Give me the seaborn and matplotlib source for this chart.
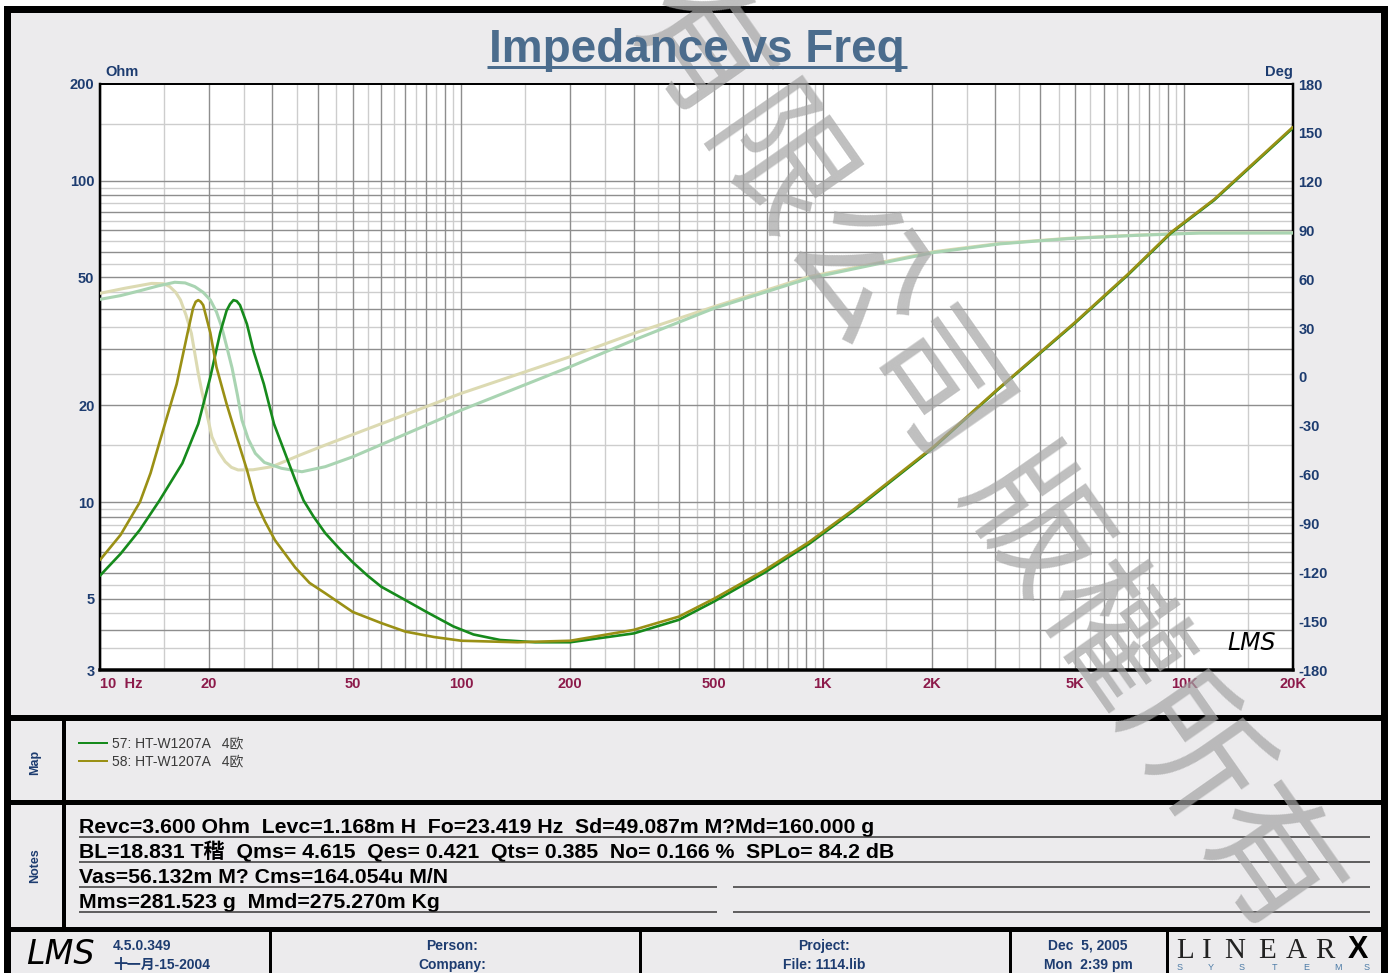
import matplotlib
matplotlib.use('Agg')
import matplotlib.pyplot as plt
from matplotlib.lines import Line2D
from matplotlib.patches import Rectangle
from matplotlib.ticker import NullLocator
import seaborn as sns

# impedance magnitude (Ohm) vs frequency (Hz), curve 57 (green)
freq_57 = [10, 11.4, 12.9, 14.6, 16.9, 18.7, 20.2, 21.5, 22.4, 22.9, 23.4, 23.9, 24.4, 25.5,
           26.6, 28.4, 30.3, 32.9, 34.7, 36.6, 39, 42, 46, 50, 55, 60, 70, 80, 95, 108, 128,
           160, 200, 300, 400, 500, 685, 915, 1220, 2030, 3040, 4980, 7000, 9180, 12100, 20000]
ohm_57 = [5.9, 6.9, 8.2, 10.1, 13.2, 17.5, 24.5, 33.6, 39.4, 41.3, 42.5, 42.2, 41.0, 35.8,
          29.5, 23.3, 17.5, 13.7, 11.7, 10.1, 9.0, 8.0, 7.15, 6.5, 5.9, 5.45, 4.95, 4.55, 4.1, 3.87, 3.72,
          3.66, 3.66, 3.9, 4.3, 4.9, 6.0, 7.4, 9.4, 14.8, 22.3, 36, 51, 68.6, 87, 146]

# curve 58 (olive)
freq_58 = [10, 11.4, 12.9, 13.8, 14.6, 16.3, 17.4, 18.1, 18.4, 18.7, 19.0, 19.3, 20.2, 21.0,
           22.4, 23.9, 25.5, 26.9, 28.6, 30.5, 34.7, 38, 42, 50, 60, 70, 84, 100, 143, 200,
           300, 400, 500, 685, 915, 1220, 2030, 3040, 4980, 7000, 9180, 12100, 20000]
ohm_58 = [6.6, 7.9, 10.0, 12.3, 15.3, 23.3, 32.9, 40.2, 42.0, 42.5, 42.0, 41.0, 33.6, 26.3,
          20.2, 15.9, 12.6, 10.1, 8.7, 7.6, 6.25, 5.6, 5.2, 4.55, 4.2, 3.95, 3.8, 3.7, 3.66, 3.7,
          4.0, 4.4, 5.0, 6.1, 7.5, 9.5, 14.9, 22.4, 36.2, 51.3, 69, 87.5, 147]

# phase (deg)
phase_freq_57 = [10, 11.4, 12.9, 14.5, 16.1, 17.2, 18.3, 19.3, 20.2, 21.0, 21.7, 22.4, 23.2,
                 24.0, 24.7, 25.7, 26.9, 28.5, 31.8, 36.2, 42, 50.1, 100, 200, 300, 500, 915,
                 1330, 2030, 3100, 4780, 7370, 11000, 20000]
phase_57 = [47.7, 50, 53, 56, 58.2, 57.8, 55.5, 52, 47.3, 40, 30.9, 19, 5.5,
            -11, -26.4, -38, -46.9, -52.5, -56.1, -58.2, -55.1, -49.0, -20.3, 6.3, 22.7, 42.2, 60.6,
            68.2, 76.5, 81.8, 85, 87, 88.4, 88.5]

phase_freq_58 = [10, 11.7, 13.9, 15.0, 15.6, 16.2, 16.7, 17.3, 17.9, 18.7, 19.1, 20.4, 21.3,
                 22.2, 23.1, 24.1, 26.5, 29.9, 35.8, 42, 100, 200, 300, 500, 915, 1330, 2030,
                 3100, 4780, 7370, 11000, 20000]
phase_58 = [51.4, 54.5, 57.5, 57.3, 55.5, 52, 47.3, 38, 26.8, 2.3, -8, -36.7, -46,
            -52, -55.5, -57.1, -57, -55.1, -47.9, -41.8, -10, 12.5, 26.8, 43.2, 61.6, 68.8, 77,
            82.1, 85.2, 87.2, 88.6, 88.6]

x_ticks = [10, 20, 50, 100, 200, 500, 1000, 2000, 5000, 10000, 20000]
x_labels = ['10  Hz', '20', '50', '100', '200', '500', '1K', '2K', '5K', '10K', '20K']
y_ticks = [3, 5, 10, 20, 50, 100, 200]
deg_ticks = list(range(-180, 181, 30))

map_labels = ['57: HT-W1207A   4欧', '58: HT-W1207A   4欧']
notes = ['Revc=3.600 Ohm  Levc=1.168m H  Fo=23.419 Hz  Sd=49.087m M?Md=160.000 g',
         'BL=18.831 T稭  Qms= 4.615  Qes= 0.421  Qts= 0.385  No= 0.166 %  SPLo= 84.2 dB',
         'Vas=56.132m M? Cms=164.054u M/N',
         'Mms=281.523 g  Mmd=275.270m Kg']

GREEN = '#168a1c'
OLIVE = '#9a9015'
GREEN_PH = '#a9d4b2'
OLIVE_PH = '#dcdab2'
NAVY = '#1d3c70'
MAROON = '#8c1a4a'
PANEL = '#ecebed'

sns.set_theme(style='white')
plt.rcParams['font.family'] = ['Liberation Sans', 'Noto Sans CJK SC', 'DejaVu Sans']

W, H = 1394, 973
fig = plt.figure(figsize=(W / 100, H / 100), dpi=100)
fig.patch.set_facecolor('white')


def fx(x):
    return x / W


def fy(y):
    return 1 - y / H


def line(xs, ys, lw, color='black', z=5):
    fig.add_artist(Line2D([fx(v) for v in xs], [fy(v) for v in ys], transform=fig.transFigure,
                          lw=lw * 0.72, color=color, zorder=z, solid_capstyle='butt'))


# outer panel and frame
fig.add_artist(Rectangle((fx(6.5), fy(1000)), fx(1384) - fx(6.5), fy(8.5) - fy(1000),
                         transform=fig.transFigure, facecolor=PANEL, edgecolor='black',
                         lw=7 * 0.72, zorder=-10))

# main plot
ax = fig.add_axes([fx(100), fy(670), fx(1293) - fx(100), fy(84) - fy(670)])
ax.set_facecolor('white')
ax.set_xscale('log')
ax.set_yscale('log')
ax.set_xlim(10, 20000)
ax.set_ylim(3, 200)

# grid: dark at n*10^k, light half-way
for k in [10, 100, 1000, 10000]:
    for n in range(1, 10):
        if 10 <= n * k <= 20000:
            ax.axvline(n * k, color='#8e8e8e', lw=1.0, zorder=0.5)
        if 10 <= (n + 0.5) * k <= 20000:
            ax.axvline((n + 0.5) * k, color='#cdcdcd', lw=1.0, zorder=0.4)
for k in [1, 10, 100]:
    for n in range(1, 10):
        if 3 < n * k < 200:
            ax.axhline(n * k, color='#8e8e8e', lw=1.0, zorder=0.5)
        if 3 < (n + 0.5) * k < 200:
            ax.axhline((n + 0.5) * k, color='#cdcdcd', lw=1.0, zorder=0.4)

ax.xaxis.set_minor_locator(NullLocator())
ax.yaxis.set_minor_locator(NullLocator())
ax.set_xticks(x_ticks, x_labels)
ax.set_yticks(y_ticks, [str(v) for v in y_ticks])
ax.tick_params(axis='x', length=0, pad=5, labelsize=10.5, labelcolor=MAROON)
ax.tick_params(axis='y', length=0, pad=4, labelsize=10.5, labelcolor=NAVY)
for lab in ax.get_xticklabels() + ax.get_yticklabels():
    lab.set_fontweight('bold')
ax.get_xticklabels()[0].set_horizontalalignment('left')
for side, w in [('left', 2.5), ('bottom', 3.5), ('top', 2), ('right', 2.5)]:
    ax.spines[side].set_color('black')
    ax.spines[side].set_linewidth(w * 0.72)

# phase axis
ax_ph = ax.twinx()
ax_ph.set_ylim(-180, 180)
ax_ph.set_yticks(deg_ticks, [str(v) for v in deg_ticks])
ax_ph.tick_params(axis='y', length=0, pad=4, labelsize=10.5, labelcolor=NAVY)
for lab in ax_ph.get_yticklabels():
    lab.set_fontweight('bold')
sns.lineplot(x=phase_freq_58, y=phase_58, ax=ax_ph, color=OLIVE_PH, lw=2.2, estimator=None)
sns.lineplot(x=phase_freq_57, y=phase_57, ax=ax_ph, color=GREEN_PH, lw=2.2, estimator=None)
ax_ph.set_xlim(10, 20000)

# impedance axis on top
ax_z = ax.twinx()
ax_z.set_yscale('log')
ax_z.set_ylim(3, 200)
ax_z.set_yticks([])
ax_z.yaxis.set_minor_locator(NullLocator())
sns.lineplot(x=freq_57, y=ohm_57, ax=ax_z, color=GREEN, lw=1.9, estimator=None)
sns.lineplot(x=freq_58, y=ohm_58, ax=ax_z, color=OLIVE, lw=1.9, estimator=None)
ax_z.set_xlim(10, 20000)
for a in (ax_ph, ax_z):
    a.set_xlabel('')
    a.set_ylabel('')
    for s in a.spines.values():
        s.set_visible(False)

ax.text(0.965, 0.025, 'LMS', transform=ax.transAxes, fontsize=17, style='italic',
        family='DejaVu Sans', color='black', ha='center', va='bottom', zorder=6)

# title and axis names
fig.text(fx(697), fy(62), 'Impedance vs Freq', ha='center', va='baseline', fontsize=33,
         weight='bold', color='#4b6c8d', zorder=12)
line([487, 907], [66.5, 66.5], 3, color='#4b6c8d', z=12)
fig.text(fx(105), fy(72), 'Ohm', ha='left', va='center', fontsize=10.5, weight='bold', color=NAVY)
fig.text(fx(1293), fy(72), 'Deg', ha='right', va='center', fontsize=10.5, weight='bold', color=NAVY)

# panel dividers
line([6, 1384], [718, 718], 6)
line([6, 1384], [802, 802], 5)
line([6, 1384], [929, 929], 5)
line([64, 64], [718, 929], 4)
for xv in [270, 640, 1010, 1167]:
    line([xv, xv], [929, 980], 3)

fig.text(fx(35), fy(762), 'Map', rotation=90, ha='center', va='center', fontsize=9,
         weight='bold', color=NAVY)
fig.text(fx(35), fy(866), 'Notes', rotation=90, ha='center', va='center', fontsize=9,
         weight='bold', color=NAVY)

# map (legend)
for i, (lab, col) in enumerate(zip(map_labels, [GREEN, OLIVE])):
    yv = 743 + 18 * i
    line([78, 108], [yv, yv], 2, color=col)
    fig.text(fx(112), fy(yv), lab, ha='left', va='center', fontsize=10, color='#3a3a3a')

# notes
for i, txt in enumerate(notes):
    base = 833 + 25 * i
    fig.text(fx(79), fy(base), txt, ha='left', va='baseline', fontsize=15.3, weight='bold',
             color='black')
    if i < 2:
        line([79, 1370], [base + 3.5, base + 3.5], 1.5, color='#333333')
    else:
        line([79, 717], [base + 3.5, base + 3.5], 1.5, color='#333333')
        line([733, 1370], [base + 3.5, base + 3.5], 1.5, color='#333333')

# footer
fig.text(fx(60), fy(955), 'LMS', ha='center', va='center', fontsize=24, style='italic',
         family='DejaVu Sans', color='black')
fig.text(fx(113), fy(946), '4.5.0.349', ha='left', va='center', fontsize=10, weight='bold', color=NAVY)
fig.text(fx(113), fy(965), '十一月-15-2004', ha='left', va='center', fontsize=10, weight='bold', color=NAVY)
for xc, (t1, t2) in zip([452, 824, 1088], [('Person:', 'Company:'), ('Project:', 'File: 1114.lib'),
                                           ('Dec  5, 2005', 'Mon  2:39 pm')]):
    fig.text(fx(xc), fy(946), t1, ha='center', va='center', fontsize=10, weight='bold', color=NAVY)
    fig.text(fx(xc), fy(965), t2, ha='center', va='center', fontsize=10, weight='bold', color=NAVY)
for ch, xc in zip('LINEAR', [1185, 1207, 1235, 1267, 1296, 1325]):
    fig.text(fx(xc), fy(958), ch, ha='center', va='baseline', fontsize=21, family='Liberation Serif',
             color='#222222')
fig.text(fx(1358), fy(958), 'X', ha='center', va='baseline', fontsize=22, weight='heavy', color='black')
for ch, xc in zip('SYSTEMS', [1180, 1211, 1242, 1274, 1306, 1338, 1367]):
    fig.text(fx(xc), fy(968), ch, ha='center', va='center', fontsize=6.5, color='#4b7aa6')

# watermark
fig.text(fx(982), fy(455), '有限公司 版權所有', rotation=-55, rotation_mode='anchor',
         ha='center', va='center', fontsize=99, family=['Noto Sans CJK TC'],
         color='#a4a4a4', alpha=0.7, zorder=11)

fig.savefig('out.png', dpi=100)
